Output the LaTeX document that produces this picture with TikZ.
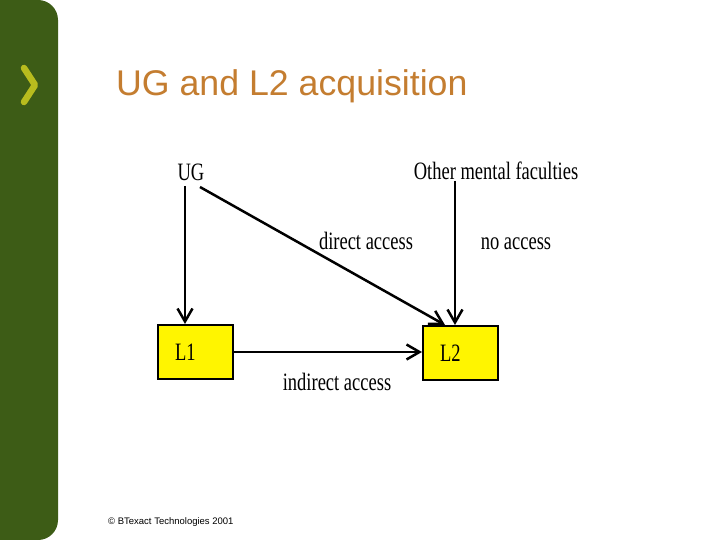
\documentclass[tikz,border=0pt]{standalone}
\usepackage{fontspec}
\usepackage{graphicx}
\setmainfont{Liberation Serif}
\newfontfamily\arialf{Liberation Sans}
\usetikzlibrary{arrows.meta}
\definecolor{barg}{RGB}{61,92,22}
\definecolor{chev}{RGB}{184,188,30}
\definecolor{titlec}{RGB}{196,125,48}
\definecolor{boxy}{RGB}{255,245,0}
\newcommand{\dtext}[1]{\scalebox{0.74}[1]{\fontsize{25}{25}\selectfont #1}}
\tikzset{
  arr/.style={line width=2.5pt, -{Straight Barb[length=13pt,width=15pt,line width=2.5pt]}},
  ybox/.style={draw=black, line width=2pt, fill=boxy, minimum width=75pt, minimum height=54pt,
    text width=41pt, inner xsep=17pt, align=left, anchor=north west},
  lbl/.style={inner sep=1pt, anchor=base}
}
\begin{document}
\begin{tikzpicture}[x=1pt,y=-1pt]
\useasboundingbox (0,0) rectangle (720,540);
\fill[white] (0,0) rectangle (720,540);
% side bar
\fill[barg] (0,0) [rounded corners=20pt] -- (58,0) -- (58,540) [sharp corners] -- (0,540) -- cycle;
\draw[chev, line width=6.5pt, line cap=round, line join=round] (24,68) -- (35,85) -- (24,102);
% title
\node[anchor=base west, inner sep=0pt, text=titlec, font=\arialf\fontsize{35.7}{40}\selectfont] (title) at (116,96) {UG and L2 acquisition};
% footer
\node[anchor=base west, inner sep=0pt, font=\arialf\fontsize{9.5}{10}\selectfont] (foot) at (108,524) {© BTexact Technologies 2001};
% diagram
\node[lbl] (ug) at (191,181) {\dtext{UG}};
\node[lbl] (omf) at (496,180) {\dtext{Other mental faculties}};
\node[ybox] (l1) at (157,324) {\dtext{L1}};
\node[ybox] (l2) at (422,325) {\dtext{L2}};
\node[lbl] (da) at (366,249) {\dtext{direct access}};
\node[lbl] (na) at (516,249) {\dtext{no access}};
\node[lbl] (ia) at (337,390) {\dtext{indirect access}};
\coordinate (ugd) at (185,186);
\coordinate (ugr) at (200,187);
\coordinate (omd) at (455,181);
\draw[arr] (ugd) -- (ugd |- l1.north);
\draw[arr] (ugr) -- ([xshift=23pt]l2.north west);
\draw[arr] (omd) -- (omd |- l2.north);
\draw[arr] (l1.east) -- (l1.east -| l2.west);
\end{tikzpicture}
\end{document}
